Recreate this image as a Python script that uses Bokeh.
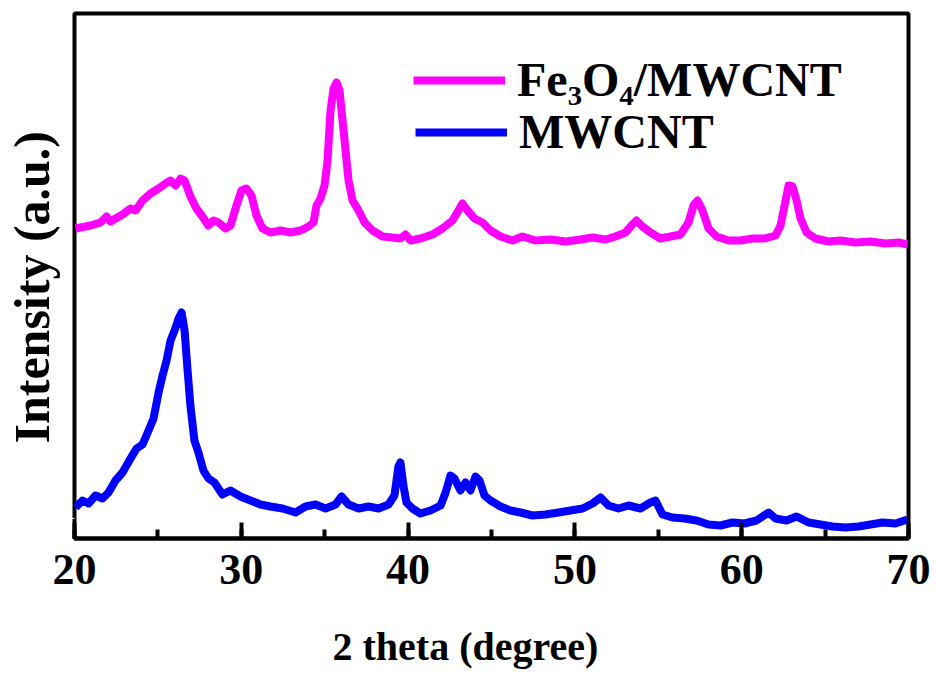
import numpy as np
from bokeh.plotting import figure
from bokeh.models import (Range1d, SingleIntervalTicker, FixedTicker, Legend, LegendItem, Title,
                          LinearAxis)
from bokeh.embed import file_html
from bokeh.resources import INLINE

# ---- data ----
fe_theta = [20.06, 20.96, 21.56, 21.92, 22.16, 22.46, 22.88, 23.36, 23.66, 24.08, 24.56, 25.04,
            25.46, 25.76, 26.06, 26.36, 26.6, 26.95, 27.31, 27.67, 28.03, 28.33, 28.63, 29.05,
            29.35, 29.71, 30.01, 30.31, 30.61, 30.91, 31.27, 31.75, 32.35, 32.95, 33.55, 34.03,
            34.33, 34.51, 34.75, 34.99, 35.17, 35.35, 35.53, 35.71, 35.89, 36.07, 36.25, 36.43,
            36.67, 37.03, 37.39, 37.87, 38.47, 39.06, 39.54, 39.84, 40.14, 40.74, 41.46, 42.06,
            42.66, 43.02, 43.26, 43.56, 43.98, 44.46, 44.94, 45.54, 46.26, 46.86, 47.64, 48.54,
            49.44, 50.34, 51.06, 51.83, 52.43, 53.03, 53.45, 53.69, 54.05, 54.53, 55.13, 55.73,
            56.33, 56.81, 57.11, 57.35, 57.65, 58.01, 58.49, 59.21, 59.93, 60.65, 61.37, 62.03,
            62.33, 62.57, 62.81, 63.05, 63.29, 63.53, 63.89, 64.42, 65.2, 65.92, 66.82, 67.72,
            68.62, 69.4, 69.94]
fe_int = [310, 313, 316, 322, 317, 320, 324, 330, 328, 338, 345, 350,
          355, 358, 353, 360, 358, 342, 330, 322, 313, 318, 316, 310,
          313, 333, 348, 350, 343, 323, 310, 306, 308, 306, 308, 312,
          316, 333, 340, 353, 378, 428, 450, 456, 448, 418, 388, 358,
          338, 328, 316, 308, 302, 301, 300, 304, 298, 300, 304, 310,
          318, 328, 335, 328, 320, 316, 308, 302, 298, 302, 298, 299,
          297, 299, 301, 299, 302, 306, 314, 318, 312, 306, 300, 302,
          304, 316, 333, 338, 328, 310, 302, 298, 298, 300, 300, 303,
          313, 333, 353, 352, 338, 320, 306, 300, 297, 298, 296, 297,
          295, 296, 294]

cnt_theta = [20.06, 20.48, 20.84, 21.26, 21.68, 22.04, 22.46, 22.88, 23.36, 23.72, 24.08, 24.44,
             24.74, 25.04, 25.28, 25.52, 25.76, 26.0, 26.24, 26.42, 26.6, 26.78, 26.95, 27.19,
             27.43, 27.73, 28.03, 28.39, 28.87, 29.35, 29.95, 30.55, 31.15, 31.75, 32.47, 33.25,
             33.85, 34.45, 35.05, 35.65, 36.01, 36.43, 37.03, 37.63, 38.23, 38.83, 39.18, 39.42,
             39.54, 39.72, 39.9, 40.26, 40.74, 41.34, 41.95, 42.25, 42.54, 42.78, 43.14, 43.44,
             43.74, 44.04, 44.28, 44.58, 44.94, 45.54, 46.14, 46.74, 47.46, 48.24, 49.02, 49.74,
             50.46, 51.06, 51.54, 52.01, 52.61, 53.21, 53.93, 54.53, 54.83, 55.25, 55.85, 56.57,
             57.29, 58.01, 58.73, 59.45, 60.17, 60.89, 61.61, 62.03, 62.69, 63.29, 64.01, 64.72,
             65.44, 66.22, 67.0, 67.72, 68.44, 69.22, 69.94]
cnt_int = [31, 38, 35, 43, 40, 46, 58, 66, 80, 90, 94, 108,
           120, 146, 163, 178, 198, 208, 220, 226, 208, 168, 133, 98,
           86, 68, 60, 56, 44, 48, 42, 38, 34, 32, 30, 26,
           32, 34, 30, 34, 42, 34, 30, 32, 30, 34, 43, 72,
           76, 53, 36, 30, 25, 28, 33, 46, 63, 60, 48, 56,
           48, 62, 58, 43, 38, 32, 28, 26, 23, 24, 26, 28,
           30, 35, 41, 33, 30, 33, 30, 36, 38, 24, 21, 20,
           18, 14, 13, 16, 15, 18, 26, 20, 18, 22, 16, 14,
           12, 11, 12, 14, 16, 15, 19]

x_ticks_interval = 10
x_start, x_end = 20, 70
y_start, y_end = 0, 525
spacer_x_tick = [20]
spacer_y_tick = [20]

FONT = "Liberation Serif"

p = figure(width=936, height=684, output_backend="svg", toolbar_location=None,
           x_range=Range1d(x_start, x_end), y_range=Range1d(y_start, y_end),
           min_border_left=74, min_border_right=28, min_border_top=13, min_border_bottom=146,
           background_fill_color="white", border_fill_color="white")

p.grid.visible = False
p.outline_line_color = "black"
p.outline_line_width = 4
p.outline_line_alpha = 1

# y axis: one white tick, no labels; only a spacer between frame and title
ya = p.yaxis[0]
ya.ticker = FixedTicker(ticks=spacer_y_tick)
ya.axis_line_color = None
ya.major_tick_line_color = "white"
ya.major_tick_line_width = 1
ya.minor_tick_line_color = None
ya.major_tick_out = 15
ya.major_tick_in = 0
ya.minor_tick_out = 0
ya.major_label_standoff = 0
ya.major_label_text_font_size = "0px"
ya.major_label_overrides = {t: "" for t in spacer_y_tick}

xa = p.xaxis[0]
xa.ticker = SingleIntervalTicker(interval=x_ticks_interval, num_minor_ticks=2)
xa.axis_line_width = 4
xa.major_tick_in = 16
xa.major_tick_out = 0
xa.minor_tick_in = 9
xa.minor_tick_out = 0
xa.major_tick_line_width = 4
xa.minor_tick_line_width = 4
xa.major_label_text_font = FONT
xa.major_label_text_font_style = "bold"
xa.major_label_text_font_size = "44px"
xa.major_label_text_color = "black"
xa.major_label_standoff = 16

# spacer between tick labels and the x title (one white tick, nothing visible)
spacer = LinearAxis(ticker=FixedTicker(ticks=spacer_x_tick), axis_line_color=None,
                    major_tick_line_color="white", major_tick_line_width=1,
                    minor_tick_line_color=None,
                    major_tick_out=35, major_tick_in=0, minor_tick_out=0,
                    major_label_standoff=0, major_label_text_font_size="0px",
                    major_label_overrides={t: "" for t in spacer_x_tick})
p.add_layout(spacer, "below")

xt = Title(text="2 theta (degree)", align="left", offset=258, standoff=0,
           text_font=FONT, text_font_style="bold", text_font_size="40px", text_color="black")
p.add_layout(xt, "below")
yt = Title(text="Intensity (a.u.)", align="left", offset=95, standoff=0,
           text_font=FONT, text_font_style="bold", text_font_size="50px", text_color="black")
p.add_layout(yt, "left")

r1 = p.line(fe_theta, fe_int, line_color="#FF00FF", line_width=8, line_join="round")
r2 = p.line(cnt_theta, cnt_int, line_color="#0000FF", line_width=8, line_join="round")

def make_legend(label, rend, loc):
    lg = Legend(items=[LegendItem(label=label, renderers=[rend])], location=loc,
                glyph_width=92, glyph_height=30, label_standoff=12,
                label_text_font=FONT, label_text_font_style="bold",
                label_text_font_size="48px", label_text_color="black",
                background_fill_alpha=0, border_line_alpha=0, padding=0, margin=0)
    p.add_layout(lg, "center")

make_legend("Fe\u2083O\u2084/MWCNT", r1, (339, 431))
make_legend("MWCNT", r2, (341, 379))

open("out.html", "w").write(file_html(p, INLINE))
